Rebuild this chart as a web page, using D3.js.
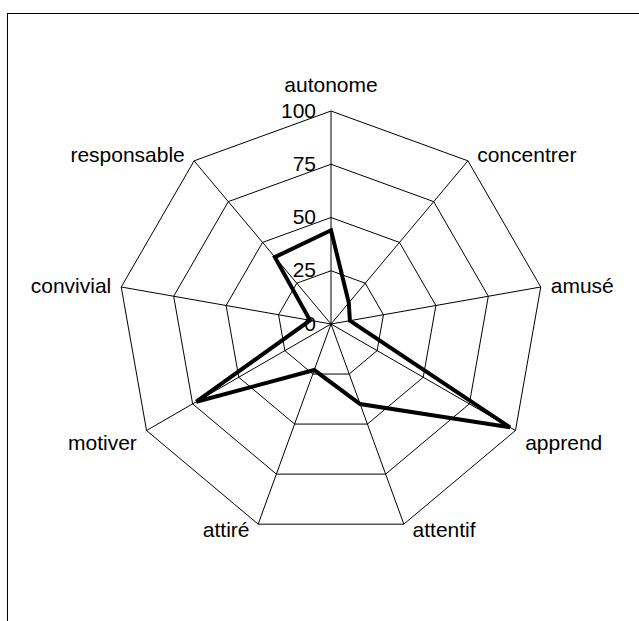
<!DOCTYPE html>
<html>
<head>
<meta charset="utf-8">
<script src="https://cdn.jsdelivr.net/npm/d3@7/dist/d3.min.js"></script>
<style>
  html, body { margin: 0; padding: 0; background: #fff; }
  svg { display: block; }
  text { font-family: "Liberation Sans", Arial, sans-serif; fill: #000; }
</style>
</head>
<body>
<svg id="chart" width="639" height="621"></svg>
<script>
// Radar chart: one series over nine criteria
const categories = ["autonome", "concentrer", "amusé", "apprend", "attentif",
                    "attiré", "motiver", "convivial", "responsable"];
const values = [44, 13, 9, 97, 40, 23, 73, 10, 41];
const tickValues = [0, 25, 50, 75, 100];
const tickLabels = ["0", "25", "50", "75", "100"];

const svg = d3.select("#chart");
const width = 639, height = 621;
const cx = 331, cy = 324;
const fontSize = 21;

// chart area frame
svg.append("rect")
  .attr("x", 7.5).attr("y", 13.5)
  .attr("width", 800).attr("height", 800)
  .attr("fill", "none").attr("stroke", "#000").attr("stroke-width", 1);

const r = d3.scaleLinear().domain([0, 100]).range([0, 213]);
const angle = d3.scaleLinear().domain([0, categories.length]).range([0, 2 * Math.PI]);

const g = svg.append("g").attr("transform", `translate(${cx},${cy})`);

const point = (i, v) => {
  const a = angle(i);
  return [r(v) * Math.sin(a), -r(v) * Math.cos(a)];
};

// concentric polygon rings
const ringLine = d3.line();
tickValues.filter(t => t > 0).forEach(t => {
  const pts = categories.map((c, i) => point(i, t));
  g.append("path")
    .attr("d", ringLine(pts) + "Z")
    .attr("fill", "none").attr("stroke", "#000").attr("stroke-width", 1);
});

// spokes
categories.forEach((c, i) => {
  const [x, y] = point(i, 100);
  g.append("line")
    .attr("x1", 0).attr("y1", 0).attr("x2", x).attr("y2", y)
    .attr("stroke", "#000").attr("stroke-width", 1);
});

// radial value labels along the first spoke
g.selectAll("text.tick")
  .data(tickValues)
  .join("text")
  .attr("class", "tick")
  .attr("x", -15)
  .attr("y", d => -r(d) + 6.5)
  .attr("text-anchor", "end")
  .attr("font-size", fontSize)
  .text((d, i) => tickLabels[i]);

// data polygon
g.append("path")
  .attr("d", d3.line()(values.map((v, i) => point(i, v))) + "Z")
  .attr("fill", "none").attr("stroke", "#000").attr("stroke-width", 4)
  .attr("stroke-linejoin", "miter");

// category labels placed just outside each spoke
function labelLayout(i) {
  const a = angle(i);
  const s = Math.sin(a), c = Math.cos(a);
  let anchor = "middle", dx = 0;
  if (s > 0.1) { anchor = "start"; dx = 8 + 2 * s; }
  else if (s < -0.1) { anchor = "end"; dx = -(8 + 2 * Math.abs(s)); }
  let dy;
  if (c > 0.9) dy = -19;
  else if (c > 0.5) dy = 1.5;
  else if (c > 0) dy = 6;
  else if (c > -0.7) dy = 19;
  else dy = 12.5;
  return { anchor, dx, dy };
}

categories.forEach((c, i) => {
  const [x, y] = point(i, 100);
  const L = labelLayout(i);
  g.append("text")
    .attr("x", x + L.dx)
    .attr("y", y + L.dy)
    .attr("text-anchor", L.anchor)
    .attr("font-size", fontSize)
    .text(c);
});
</script>
</body>
</html>
